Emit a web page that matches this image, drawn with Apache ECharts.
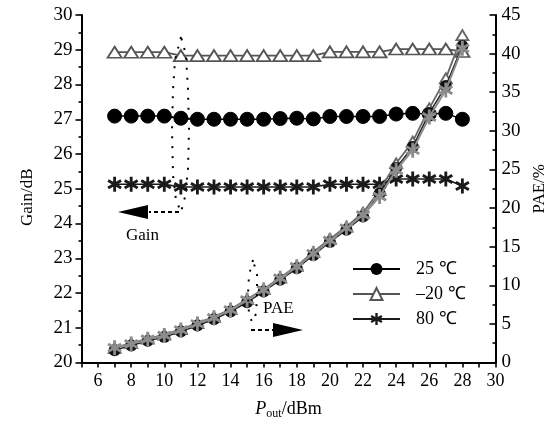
<!DOCTYPE html>
<html>
<head>
<meta charset="utf-8">
<script src="https://cdn.jsdelivr.net/npm/echarts@6/dist/echarts.min.js"></script>
<style>
html,body{margin:0;padding:0;background:#fff;}
#c{width:552px;height:421px;}
</style>
</head>
<body>
<div id="c"></div>
<script>
// ---- data ----
var pout = [7,8,9,10,11,12,13,14,15,16,17,18,19,20,21,22,23,24,25,26,27,28];
var gain25  = [27.09,27.09,27.09,27.09,27.03,27.0,27.0,27.0,27.0,27.0,27.02,27.03,27.01,27.08,27.08,27.08,27.08,27.15,27.17,27.15,27.17,27.0];
var gainM20 = [28.93,28.93,28.93,28.93,28.83,28.83,28.83,28.83,28.83,28.83,28.83,28.83,28.83,28.94,28.94,28.94,28.94,29.02,29.02,29.02,29.02,28.95];
var gain80  = [25.13,25.13,25.13,25.13,25.05,25.05,25.05,25.05,25.05,25.05,25.05,25.05,25.05,25.13,25.13,25.13,25.13,25.28,25.28,25.28,25.28,25.08];
var pae25   = [1.6,2.2,2.8,3.3,4.0,4.8,5.6,6.6,7.8,9.2,10.7,12.2,13.9,15.6,17.2,18.9,21.9,25.2,27.9,32.3,35.8,41.0];
var paeM20  = [1.9,2.5,3.1,3.6,4.3,5.1,5.9,6.9,8.2,9.5,11.0,12.5,14.3,16.0,17.6,19.4,22.3,25.8,28.6,32.9,36.8,42.4];
var pae80   = [1.9,2.4,3.0,3.5,4.2,5.0,5.8,6.8,8.1,9.4,10.9,12.4,14.1,15.8,17.4,19.1,21.5,24.9,27.5,31.8,35.3,40.7];
var seriesNames = ['25 \u2103', '\u201320 \u2103', '80 \u2103'];
var xTicks = {min: 5, max: 30, step: 1};
var gainTicks = {min: 20, max: 30, step: 1};
var paeTicks = {min: 0, max: 45, step: 5};

function pairs(xs, ys){ return xs.map(function(x,i){ return [x, ys[i]]; }); }

var FONT = "'Liberation Serif','Times New Roman',serif";
var STAR = 'path://M-1.9,-10L1.9,-10L1.9,10L-1.9,10Z M7.71,-6.64L9.61,-3.36L-7.71,6.64L-9.61,3.36Z M-9.61,-3.36L-7.71,-6.64L9.61,3.36L7.71,6.64Z';

var chart = echarts.init(document.getElementById('c'), null, {renderer:'canvas'});

var axisLineStyle = {color:'#000', width:2};
var tickLine = {color:'#000', width:1.6};

var option = {
  animation: false,
  backgroundColor: '#fff',
  textStyle: {fontFamily: FONT, color:'#000'},
  grid: {left: 81.5, right: 56.5, top: 15, bottom: 58.5, containLabel: false, outerBoundsMode: 'none'},
  legend: {
    orient: 'vertical', left: 352, top: 260, padding: 0,
    itemWidth: 47, itemHeight: 15, itemGap: 7,
    data: seriesNames,
    textStyle: {fontFamily: FONT, fontSize: 18, color:'#000', padding:[0,0,0,11]}
  },
  xAxis: {
    type: 'value', min: xTicks.min, max: xTicks.max, interval: xTicks.step,
    name: '{i|P}{s|out}{n|/dBm}', nameLocation: 'middle', nameGap: 36,
    nameTextStyle: {rich: {
      i: {fontFamily: FONT, fontStyle:'italic', fontSize: 18, color:'#000'},
      s: {fontFamily: FONT, fontSize: 12, color:'#000', padding:[9,0,0,0]},
      n: {fontFamily: FONT, fontSize: 18, color:'#000'}
    }},
    axisLine: {lineStyle: axisLineStyle, onZero:false},
    axisTick: {show:true, inside:false, length:5, lineStyle: tickLine},
    axisLabel: {fontFamily: FONT, fontSize: 18, color:'#000', margin: 10,
      formatter: function(v){ return (v % 2 === 0) ? String(v) : ''; }},
    splitLine: {show:false}
  },
  yAxis: [{
    type: 'value', min: gainTicks.min, max: gainTicks.max, interval: gainTicks.step,
    position: 'left',
    name: 'Gain/dB', nameLocation: 'middle', nameGap: 45, nameRotate: 90,
    nameTextStyle: {fontFamily: FONT, fontSize: 17, color:'#000', padding:[0,17,0,0]},
    axisLine: {show:true, lineStyle: axisLineStyle, onZero:false},
    axisTick: {show:true, inside:false, length:6, lineStyle: tickLine},
    minorTick: {show:true, splitNumber:2, length:3, lineStyle:{color:'#000', width:1.6}},
    axisLabel: {fontFamily: FONT, fontSize: 19, color:'#000', margin: 9},
    splitLine: {show:false}
  },{
    type: 'value', min: paeTicks.min, max: paeTicks.max, interval: paeTicks.step,
    position: 'right',
    name: 'PAE/%', nameLocation: 'middle', nameGap: 34, nameRotate: 90,
    nameTextStyle: {fontFamily: FONT, fontSize: 17, color:'#000'},
    axisLine: {show:true, lineStyle: axisLineStyle, onZero:false},
    axisTick: {show:true, inside:true, length:6, lineStyle: tickLine},
    minorTick: {show:true, splitNumber:2, length:3, lineStyle:{color:'#000', width:1.6}},
    axisLabel: {fontFamily: FONT, fontSize: 19, color:'#000', margin: 6},
    splitLine: {show:false}
  }],
  series: [
    {name: seriesNames[0], type:'line', yAxisIndex:0, data: pairs(pout, gain25),
     symbol:'circle', symbolSize: 14, lineStyle:{color:'#000', width:1.5},
     itemStyle:{color:'#000', borderColor:'#000'}, z: 3},
    {name: seriesNames[1], type:'line', yAxisIndex:0, data: pairs(pout, gainM20),
     symbol:'triangle', symbolSize: [14,11], lineStyle:{color:'#555', width:1.8},
     itemStyle:{color:'#fff', borderColor:'#555', borderWidth:1.8}, z: 3},
    {name: seriesNames[2], type:'line', yAxisIndex:0, data: pairs(pout, gain80),
     symbol: STAR, symbolSize: 15, symbolKeepAspect: true, lineStyle:{color:'#1a1a1a', width:1.6},
     itemStyle:{color:'#1a1a1a', borderWidth:0}, z: 3},
    {name: seriesNames[1], type:'line', yAxisIndex:1, data: pairs(pout, paeM20),
     symbol:'triangle', symbolSize: [12,10], lineStyle:{color:'#666', width:1.8},
     itemStyle:{color:'#fff', borderColor:'#666', borderWidth:1.8}, z: 4},
    {name: seriesNames[0], type:'line', yAxisIndex:1, data: pairs(pout, pae25),
     symbol:'circle', symbolSize: 12, lineStyle:{color:'#222', width:1.5},
     itemStyle:{color:'#111'}, z: 5},
    {name: seriesNames[2], type:'line', yAxisIndex:1, data: pairs(pout, pae80),
     symbol: STAR, symbolSize: 15, symbolKeepAspect: true, lineStyle:{color:'#8c8c8c', width:2},
     itemStyle:{color:'#8c8c8c', borderWidth:0}, z: 6}
  ],
  graphic: [
    // Gain annotation: dotted loop around the gain curves and arrow to the left axis
    {type:'polygon', z: 10, shape:{points:[[181,37],[175,60],[173,90],[172,130],[173,175],[176,200],[181,212],[185,197],[188,170],[189,130],[188,90],[186,55]]},
     style:{fill:null, stroke:'#000', lineWidth:2, lineDash:[2,8]}},
    {type:'polyline', z: 10, shape:{points:[[179,212],[149,212]]},
     style:{stroke:'#000', lineWidth:2, lineDash:[4,3], fill:null}},
    {type:'polygon', z: 10, shape:{points:[[118,212],[148,205],[148,219]]}, style:{fill:'#000'}},
    {type:'text', z: 10, left: 126, top: 227, style:{text:'Gain', font:'17px '+FONT, fill:'#000'}},
    // PAE annotation
    {type:'polygon', z: 10, shape:{points:[[253,260],[249,275],[248,295],[249,314],[252,322],[256,314],[257,295],[257,275]]},
     style:{fill:null, stroke:'#000', lineWidth:2, lineDash:[2,8]}},
    {type:'polyline', z: 10, shape:{points:[[251,330],[273,330]]},
     style:{stroke:'#000', lineWidth:2, lineDash:[4,3], fill:null}},
    {type:'polygon', z: 10, shape:{points:[[303,330],[273,323],[273,337]]}, style:{fill:'#000'}},
    {type:'text', z: 10, left: 263, top: 300, style:{text:'PAE', font:'17px '+FONT, fill:'#000'}}
  ]
};
chart.setOption(option);
</script>
</body>
</html>
